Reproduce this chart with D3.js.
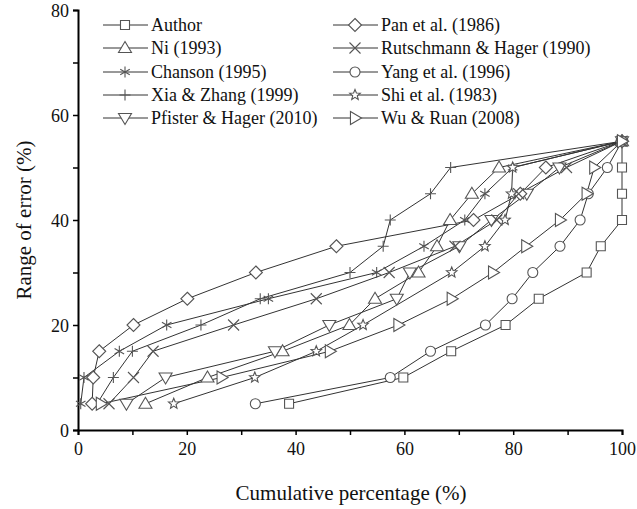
<!DOCTYPE html>
<html>
<head>
<meta charset="utf-8">
<script src="https://cdn.jsdelivr.net/npm/d3@7"></script>
<style>
  body { margin: 0; background: #fff; }
  svg text { font-family: "Times New Roman", Times, Tinos, "Liberation Serif", "DejaVu Serif", "Noto Serif", serif; }
</style>
</head>
<body>
<svg id="chart" width="637" height="509"></svg>
<script>
// error levels (%) shared by most series
var errorLevels = [5, 10, 15, 20, 25, 30, 35, 40, 45, 50, 55];
var shiLevels = [5, 10, 15, 20, 30, 35, 40, 45, 50, 55];

// cumulative percentage for each level
var authorX = [38.8, 59.8, 68.6, 78.6, 84.7, 93.5, 96.1, 100, 100, 100, 100];
var panX = [2.6, 2.8, 3.9, 10.2, 20.1, 32.7, 47.5, 72.7, 81.3, 86.0, 100];
var niX = [12.4, 23.8, 37.6, 49.9, 54.6, 62.6, 66.0, 68.4, 72.4, 77.4, 100];
var rutschX = [5.7, 10.2, 13.8, 28.6, 43.8, 57.2, 69.3, 77.0, 81.0, 89.8, 100];
var chansonX = [0.5, 1.1, 7.6, 16.3, 35.0, 54.9, 63.6, 71.1, 74.8, 79.9, 100];
var yangX = [32.6, 57.4, 64.8, 74.9, 79.8, 83.6, 88.6, 92.3, 93.8, 97.3, 100];
var xiaX = [3.5, 6.5, 10.0, 22.6, 33.5, 50.0, 56.1, 57.4, 64.8, 68.5, 100];
var shiX = [17.6, 32.5, 43.8, 52.4, 68.7, 74.8, 78.5, 79.7, 79.9, 100];
var pfisterX = [8.9, 16.1, 36.2, 46.2, 58.6, 61.0, 70.1, 76.0, 82.5, 88.5, 100];
var wuX = [4.2, 26.4, 46.3, 58.9, 68.7, 76.3, 82.4, 88.6, 93.5, 94.9, 100];

var xTicks = [0, 20, 40, 60, 80, 100];
var yTicks = [0, 20, 40, 60, 80];

var series = [
  {name: "Author", xs: authorX, ys: errorLevels, shape: "square", col: 0},
  {name: "Ni (1993)", xs: niX, ys: errorLevels, shape: "triUp", col: 0},
  {name: "Chanson (1995)", xs: chansonX, ys: errorLevels, shape: "asterisk", col: 0},
  {name: "Xia & Zhang (1999)", xs: xiaX, ys: errorLevels, shape: "plus", col: 0},
  {name: "Pfister & Hager (2010)", xs: pfisterX, ys: errorLevels, shape: "triDown", col: 0},
  {name: "Pan et al. (1986)", xs: panX, ys: errorLevels, shape: "diamond", col: 1},
  {name: "Rutschmann & Hager (1990)", xs: rutschX, ys: errorLevels, shape: "cross", col: 1},
  {name: "Yang et al. (1996)", xs: yangX, ys: errorLevels, shape: "circle", col: 1},
  {name: "Shi et al. (1983)", xs: shiX, ys: shiLevels, shape: "star", col: 1},
  {name: "Wu & Ruan (2008)", xs: wuX, ys: errorLevels, shape: "triRight", col: 1}
];

// marker outlines, centred at 0,0
function markerPath(shape) {
  var p = d3.path(), r;
  switch (shape) {
    case "square":
      r = 4.5; p.rect(-r, -r, 2 * r, 2 * r); break;
    case "circle":
      r = 5; p.moveTo(r, 0); p.arc(0, 0, r, 0, 2 * Math.PI); break;
    case "diamond":
      r = 6.5; p.moveTo(0, -r); p.lineTo(r, 0); p.lineTo(0, r); p.lineTo(-r, 0); p.closePath(); break;
    case "triUp":
      r = 6.5; p.moveTo(0, -r); p.lineTo(r, r * 0.7); p.lineTo(-r, r * 0.7); p.closePath(); break;
    case "triDown":
      r = 6.5; p.moveTo(0, r); p.lineTo(r, -r * 0.7); p.lineTo(-r, -r * 0.7); p.closePath(); break;
    case "triRight":
      r = 6.5; p.moveTo(r, 0); p.lineTo(-r * 0.7, r); p.lineTo(-r * 0.7, -r); p.closePath(); break;
    case "cross":
      r = 5.5; p.moveTo(-r, -r); p.lineTo(r, r); p.moveTo(r, -r); p.lineTo(-r, r); break;
    case "plus":
      r = 5.5; p.moveTo(-r, 0); p.lineTo(r, 0); p.moveTo(0, -r); p.lineTo(0, r); break;
    case "asterisk":
      r = 5.5;
      for (var k = 0; k < 3; k++) {
        var a = Math.PI / 2 + k * Math.PI / 3;
        p.moveTo(r * Math.cos(a), r * Math.sin(a));
        p.lineTo(-r * Math.cos(a), -r * Math.sin(a));
      }
      break;
    case "star":
      var ro = 5.5, ri = 2.4;
      for (var i = 0; i < 10; i++) {
        var ang = -Math.PI / 2 + i * Math.PI / 5, rr = i % 2 ? ri : ro;
        if (i === 0) p.moveTo(rr * Math.cos(ang), rr * Math.sin(ang));
        else p.lineTo(rr * Math.cos(ang), rr * Math.sin(ang));
      }
      p.closePath();
      break;
  }
  return p.toString();
}

function isOpen(shape) {
  return shape === "cross" || shape === "plus" || shape === "asterisk";
}

var svg = d3.select("#chart");
var x = d3.scaleLinear().domain([0, 100]).range([78, 622]);
var y = d3.scaleLinear().domain([0, 80]).range([430, 10]);

// axes
var xAxis = svg.append("g").attr("transform", "translate(0,430)")
  .call(d3.axisBottom(x).tickValues(d3.range(0, 101, 10)).tickSize(5)
    .tickFormat(function(d) { return xTicks.indexOf(d) >= 0 ? d : ""; }));
var yAxis = svg.append("g").attr("transform", "translate(78,0)")
  .call(d3.axisLeft(y).tickValues(d3.range(0, 81, 10)).tickSize(5)
    .tickFormat(function(d) { return yTicks.indexOf(d) >= 0 ? d : ""; }));

[xAxis, yAxis].forEach(function(g) {
  g.attr("font-family", null).attr("font-size", null);
  g.select(".domain").attr("stroke", "#000").attr("stroke-width", 2);
  g.selectAll(".tick line").attr("stroke", "#000").attr("stroke-width", 1.5);
  g.selectAll(".tick text").attr("font-size", 18).attr("fill", "#111");
});
xAxis.selectAll(".tick text").attr("dy", "0.95em");
yAxis.selectAll(".tick text").attr("x", -9).attr("dy", "0.35em");

svg.append("text").attr("x", 351).attr("y", 500).attr("text-anchor", "middle")
  .attr("font-size", 21).attr("fill", "#111")
  .text("Cumulative percentage (%)");
svg.append("text").attr("transform", "translate(31,220) rotate(-90)")
  .attr("text-anchor", "middle")
  .attr("font-size", 21).attr("fill", "#111")
  .text("Range of error (%)");

// lines
var line = d3.line().x(function(d) { return x(d[0]); }).y(function(d) { return y(d[1]); });
series.forEach(function(s) {
  var pts = s.xs.map(function(v, i) { return [v, s.ys[i]]; });
  svg.append("path").datum(pts).attr("d", line)
    .attr("fill", "none").attr("stroke", "#333").attr("stroke-width", 1);
});

// markers
series.forEach(function(s) {
  svg.append("g").selectAll("path").data(s.xs).enter().append("path")
    .attr("transform", function(d, i) { return "translate(" + x(d) + "," + y(s.ys[i]) + ")"; })
    .attr("d", markerPath(s.shape))
    .attr("fill", isOpen(s.shape) ? "none" : "#fff")
    .attr("stroke", "#555").attr("stroke-width", 1.1);
});

// legend
var legCols = [{lx1: 103, lx2: 148, mx: 125, tx: 151}, {lx1: 333, lx2: 378, mx: 355, tx: 381}];
var legRows = [25, 48, 72, 95, 118];
var colCount = [0, 0];
series.forEach(function(s) {
  var c = legCols[s.col], ry = legRows[colCount[s.col]++];
  var g = svg.append("g");
  g.append("line").attr("x1", c.lx1).attr("x2", c.lx2).attr("y1", ry).attr("y2", ry)
    .attr("stroke", "#333").attr("stroke-width", 1);
  g.append("path").attr("transform", "translate(" + c.mx + "," + ry + ")")
    .attr("d", markerPath(s.shape))
    .attr("fill", isOpen(s.shape) ? "none" : "#fff")
    .attr("stroke", "#555").attr("stroke-width", 1.1);
  g.append("text").attr("x", c.tx).attr("y", ry).attr("dy", "0.35em")
    .attr("font-size", 18).attr("fill", "#111")
    .text(s.name);
});
</script>
</body>
</html>
